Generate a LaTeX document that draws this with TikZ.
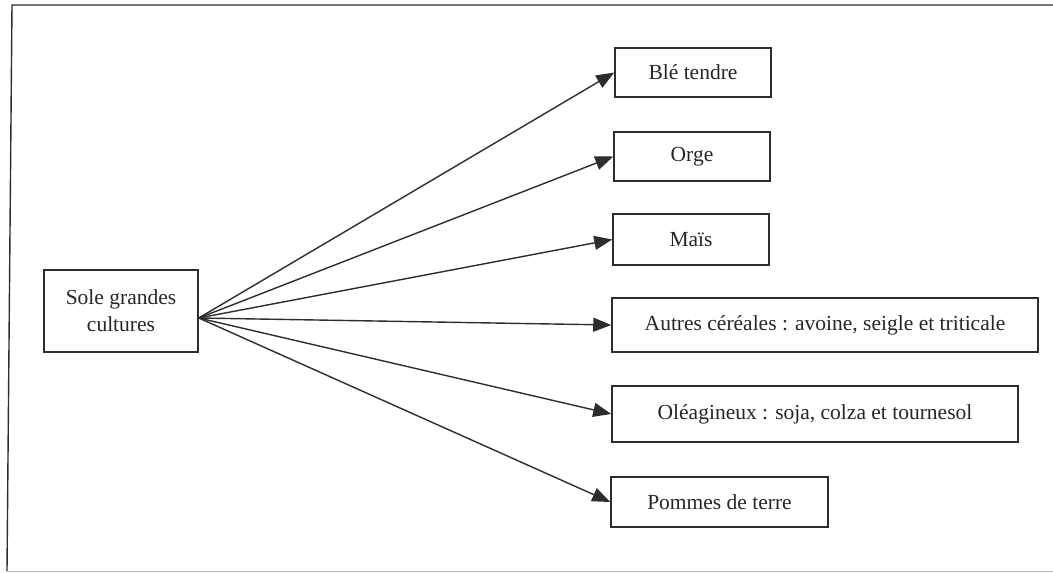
\documentclass[tikz,border=0pt]{standalone}
\usepackage{fontspec}
\setmainfont{Liberation Serif}
\usetikzlibrary{arrows.meta,calc}
\definecolor{boxgray}{RGB}{45,45,45}
\tikzset{
  cropbox/.style={draw=boxgray, line width=1.5pt, inner sep=0pt, align=center, text=black!85,
    font=\fontsize{21.5}{27}\selectfont},
  cropline/.style={draw=boxgray, line width=1.4pt, -{Triangle[length=18pt,width=14pt]}},
}

\begin{document}
\begin{tikzpicture}[x=1pt,y=1pt,yscale=-1]
            \useasboundingbox (0,0) rectangle (1053,573);
            \draw [boxgray, line width=1.4pt] (1060,5) -- (12,5) -- (7,571) ;
            \draw [boxgray!35, line width=1pt] (7,571) -- (1060,571) ;
            \node [cropbox, minimum width=154pt, minimum height=82pt] (sole) at (121,311) {Sole grandes\\cultures};
            \coordinate (hub) at ($(sole.east)+(0,7)$);
            \node [cropbox, minimum width=156pt, minimum height=49pt] (ble) at (693,72.5) {Blé tendre};
            \node [cropbox, minimum width=156pt, minimum height=49pt] (orge) at (692,156.5) {Orge};
            \node [cropbox, minimum width=156pt, minimum height=51pt] (mais) at (691,239.5) {Maïs};
            \node [cropbox, minimum width=426pt, minimum height=54pt] (autres) at (825,325) {Autres céréales : avoine, seigle et triticale};
            \node [cropbox, minimum width=406pt, minimum height=56pt] (oleag) at (815,414) {Oléagineux : soja, colza et tournesol};
            \node [cropbox, minimum width=217pt, minimum height=50pt] (pommes) at (719.5,502) {Pommes de terre};
            \foreach \t in {ble,orge,mais,autres,oleag,pommes}
              \draw [cropline] (hub) -- (\t.west) ;
\end{tikzpicture}
\end{document}
